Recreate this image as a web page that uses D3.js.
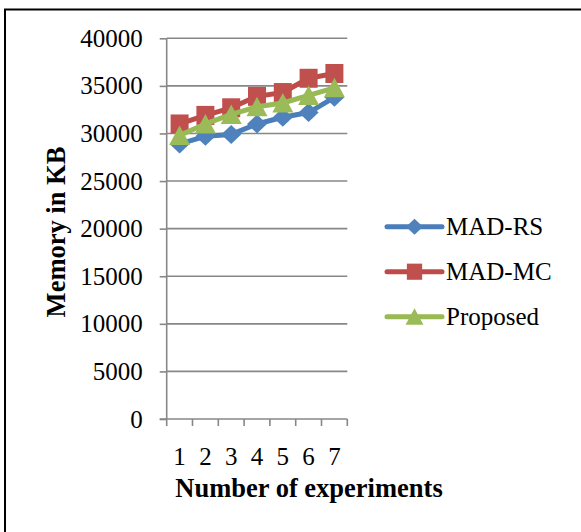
<!DOCTYPE html>
<html>
<head>
<meta charset="utf-8">
<script src="https://cdn.jsdelivr.net/npm/d3@7"></script>
<style>
  body { margin: 0; background: #fff; }
  text { font-family: "Liberation Serif", "Times New Roman", serif; fill: #000; }
</style>
</head>
<body>
<div id="chart"></div>
<script>
// data
var experiments = ["1", "2", "3", "4", "5", "6", "7"];
var madRS = [28900, 29700, 29900, 31000, 31700, 32200, 33800];
var madMC = [31000, 31900, 32700, 33900, 34300, 35800, 36300];
var proposed = [29800, 31000, 32000, 32800, 33200, 34000, 34800];
var yTicks = [0, 5000, 10000, 15000, 20000, 25000, 30000, 35000, 40000];

var seriesNames = ["MAD-RS", "MAD-MC", "Proposed"];
var seriesValues = [madRS, madMC, proposed];
var lineColors = ["#4A7EBB", "#BE4B48", "#98B954"];
var fillColors = ["#4F81BD", "#C0504D", "#9BBB59"];
var markerKinds = ["diamond", "square", "triangle"];

var svgWidth = 581;
var svgHeight = 532;

var plot = { left: 166.7, right: 347.3, top: 38.3, bottom: 419 };

var svg = d3.select("#chart")
  .append("svg")
  .attr("width", svgWidth)
  .attr("height", svgHeight);

// outer frame (runs off the right and bottom edges)
svg.append("rect")
  .attr("x", 5)
  .attr("y", 9.5)
  .attr("width", 700)
  .attr("height", 700)
  .attr("fill", "none")
  .attr("stroke", "#000")
  .attr("stroke-width", 2);

var xScale = d3.scaleBand()
  .domain(experiments)
  .range([plot.left, plot.right])
  .padding(0);

var yScale = d3.scaleLinear()
  .domain([0, 40000])
  .range([plot.bottom, plot.top]);

var xc = d => xScale(d) + xScale.bandwidth() / 2;

// gridlines
svg.append("g")
  .selectAll("line")
  .data(yTicks.filter(t => t > 0))
  .enter()
  .append("line")
  .attr("x1", plot.left)
  .attr("x2", plot.right)
  .attr("y1", d => yScale(d))
  .attr("y2", d => yScale(d))
  .attr("stroke", "#878787")
  .attr("stroke-width", 1.6);

// y axis
var leftAxis = d3.axisLeft(yScale)
  .tickValues(yTicks)
  .tickSize(7)
  .tickPadding(17)
  .tickFormat(d3.format("d"));

var yAxis = svg.append("g")
  .attr("transform", `translate(${plot.left}, 0)`)
  .call(leftAxis);
yAxis.select(".domain").attr("stroke", "#878787").attr("stroke-width", 1.6)
  .attr("d", `M0,${plot.top}V${plot.bottom}`);
yAxis.selectAll(".tick line").attr("stroke", "#878787").attr("stroke-width", 1.6);
yAxis.selectAll(".tick text")
  .attr("font-size", 25)
  .attr("font-family", "'Liberation Serif', 'Times New Roman', serif")
  .attr("fill", "#000");

// x axis: labels centred in bands, ticks on band edges
var bottomAxis = d3.axisBottom(xScale)
  .tickSize(0)
  .tickPadding(28);

var xAxis = svg.append("g")
  .attr("transform", `translate(0, ${plot.bottom})`)
  .call(bottomAxis);
xAxis.select(".domain").attr("stroke", "#878787").attr("stroke-width", 1.6)
  .attr("d", `M${plot.left - 7},0H${plot.right}`);
xAxis.selectAll(".tick text")
  .attr("font-size", 25)
  .attr("font-family", "'Liberation Serif', 'Times New Roman', serif")
  .attr("fill", "#000");

var edges = experiments.map(d => xScale(d)).concat([plot.right]);
xAxis.selectAll(".edge")
  .data(edges)
  .enter()
  .append("line")
  .attr("class", "edge")
  .attr("x1", d => d)
  .attr("x2", d => d)
  .attr("y1", 0)
  .attr("y2", 7)
  .attr("stroke", "#878787")
  .attr("stroke-width", 1.6);

// marker shapes
function markerPath(kind) {
  if (kind === "diamond") return "M0,-9.5L10,0L0,9.5L-10,0Z";
  if (kind === "square") return "M-9,-9.5H9V9.5H-9Z";
  return "M0,-10L10.5,9.5H-10.5Z";
}

var line = d3.line()
  .x((d, i) => xc(experiments[i]))
  .y(d => yScale(d));

seriesValues.forEach(function(vals, s) {
  var g = svg.append("g");
  g.append("path")
    .attr("d", line(vals))
    .attr("fill", "none")
    .attr("stroke", lineColors[s])
    .attr("stroke-width", 5)
    .attr("stroke-linejoin", "round")
    .attr("stroke-linecap", "round");
  g.selectAll("path.marker")
    .data(vals)
    .enter()
    .append("path")
    .attr("class", "marker")
    .attr("d", markerPath(markerKinds[s]))
    .attr("transform", (d, i) => `translate(${xc(experiments[i])}, ${yScale(d)})`)
    .attr("fill", fillColors[s]);
});

// legend
var legend = svg.append("g");
seriesNames.forEach(function(name, s) {
  var ly = 226.7 + s * 45;
  legend.append("line")
    .attr("x1", 387)
    .attr("x2", 442)
    .attr("y1", ly)
    .attr("y2", ly)
    .attr("stroke", lineColors[s])
    .attr("stroke-width", 5)
    .attr("stroke-linecap", "round");
  legend.append("path")
    .attr("d", markerPath(markerKinds[s]))
    .attr("transform", `translate(414.5, ${ly}) scale(0.85)`)
    .attr("fill", fillColors[s]);
  legend.append("text")
    .attr("x", 446)
    .attr("y", ly)
    .attr("dy", "0.33em")
    .attr("font-size", 25)
    .text(name);
});

// axis titles
svg.append("text")
  .attr("x", 309)
  .attr("y", 497)
  .attr("text-anchor", "middle")
  .attr("font-size", 26.5)
  .attr("font-weight", "bold")
  .text("Number of experiments");

svg.append("text")
  .attr("transform", "translate(65, 232) rotate(-90)")
  .attr("text-anchor", "middle")
  .attr("font-size", 26.5)
  .attr("font-weight", "bold")
  .text("Memory in KB");
</script>
</body>
</html>
